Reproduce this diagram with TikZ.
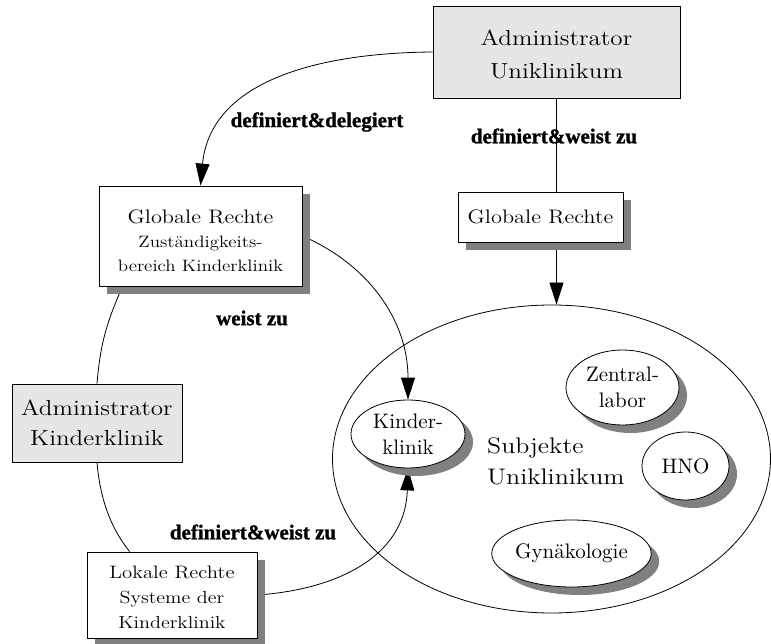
\documentclass[tikz,border=0pt]{standalone}
\usepackage{fontspec}
\setmainfont{Latin Modern Roman}
\newfontfamily\slab{lmroman12-regular}[Extension=.otf,FakeStretch=1.15]
\newfontfamily\blobfont{lmroman10-regular}[Extension=.otf]
\newfontfamily\lblfont{Liberation Serif Bold}[FakeBold=1.2]
\usetikzlibrary{shapes.geometric,shadows,arrows.meta,calc}
\definecolor{admingray}{HTML}{E6E6E6}
\definecolor{shadowgray}{HTML}{808080}
\pgfdeclarelayer{bg}
\pgfdeclarelayer{links}
\pgfsetlayers{bg,links,main}
\tikzset{
  shadowed/.style={drop shadow={shadow xshift=8pt,shadow yshift=-8pt,fill=shadowgray,opacity=1}},
  rightsbox/.style={draw,fill=white,line width=0.8pt,inner sep=0pt,align=center,shadowed},
  adminbox/.style={draw,fill=admingray,line width=0.8pt,inner sep=0pt,align=center,
    font=\slab\fontsize{21.8}{30}\selectfont},
  blob/.style={ellipse,draw,fill=white,line width=0.8pt,inner sep=0pt,align=center,shadowed,
    font=\blobfont\fontsize{21}{26.5}\selectfont},
  lbl/.style={inner sep=0pt,font=\lblfont\fontsize{21}{21}\selectfont},
  conn/.style={line width=0.8pt},
  arr/.style={conn,-{Triangle[length=22pt,width=14pt]}}
}
\begin{document}
\begin{tikzpicture}[x=1pt,y=-1pt]
\useasboundingbox (0,0) rectangle (771,644);

% the set of subjects
\begin{pgfonlayer}{bg}
  \node[ellipse,draw,fill=white,line width=0.8pt,inner sep=0pt,
        minimum width=438,minimum height=308] (subj) at (551.5,459) {};
\end{pgfonlayer}
\node[anchor=west,align=left,inner sep=0pt,font=\slab\fontsize{22.5}{31}\selectfont]
  (subjtext) at (487,461) {Subjekte\\Uniklinikum};

% clinics inside the set
\node[blob,minimum width=114,minimum height=68] (kk) at (408,434) {Kinder-\\klinik};
\node[blob,minimum width=113,minimum height=75] (zl) at (622.5,387.5) {Zentral-\\labor};
\node[blob,minimum width=87,minimum height=68] (hno) at (685.5,466) {HNO};
\node[blob,minimum width=137,minimum height=67] (gyn) at (571.5,553.5) {Gynäkologie};

% administrators
\node[adminbox,minimum width=247,minimum height=92,font=\slab\fontsize{21.8}{33}\selectfont]
  (adminU) at (556.5,52) {\rule{0pt}{20pt}Administrator\\Uniklinikum};
\node[adminbox,minimum width=170,minimum height=78] (adminK) at (97,423)
  {Administrator\\Kinderklinik};

% rights
\node[rightsbox,minimum width=203,minimum height=100,font=\slab\fontsize{16.5}{24}\selectfont]
  (globL) at (200.5,236)
  {\rule{0pt}{24pt}{\fontsize{19.5}{24}\selectfont Globale Rechte}\\Zuständigkeits-\\bereich Kinderklinik};
\node[rightsbox,minimum width=165,minimum height=50,font=\slab\fontsize{19.5}{24}\selectfont]
  (globR) at (540.5,217) {Globale Rechte};
\node[rightsbox,minimum width=170,minimum height=86,font=\slab\fontsize{17.5}{25}\selectfont]
  (lok) at (172,595)
  {\rule{0pt}{18pt}{\fontsize{18}{25}\selectfont Lokale Rechte}\\Systeme der\\Kinderklinik};

% connector labels
\node[lbl] (ldel) at (317,122) {definiert\&delegiert};
\node[lbl] (lweistR) at (554,136) {definiert\&weist zu};
\node[lbl] (lweist) at (252,318) {weist zu};
\node[lbl] (lweistL) at (253,532) {definiert\&weist zu};

% connectors
\begin{pgfonlayer}{links}
  \draw[arr] (adminU.west) .. controls +(-123,1) and +(9.5,-101) .. (globL.north);
  \draw[conn] (adminU.south) -- (adminU.south |- globR.north);
  \draw[arr] (adminU.south |- globR.south) -- (adminU.south |- subj.north);
  \draw[arr] (globL.east) .. controls +(65,28) and +(0,-80) .. (kk.north);
  \draw[arr] (lok.east) .. controls +(73,-5) and +(-3,92) .. (kk.south);
  \draw[conn] ($(globL.south west)+(24,0)$) .. controls +(-18,40) and +(3,-35) .. (adminK.north);
  \draw[conn] (adminK.south) .. controls +(3,35) and +(-20,-25) .. ($(lok.north west)+(43,0)$);
\end{pgfonlayer}
\end{tikzpicture}
\end{document}
